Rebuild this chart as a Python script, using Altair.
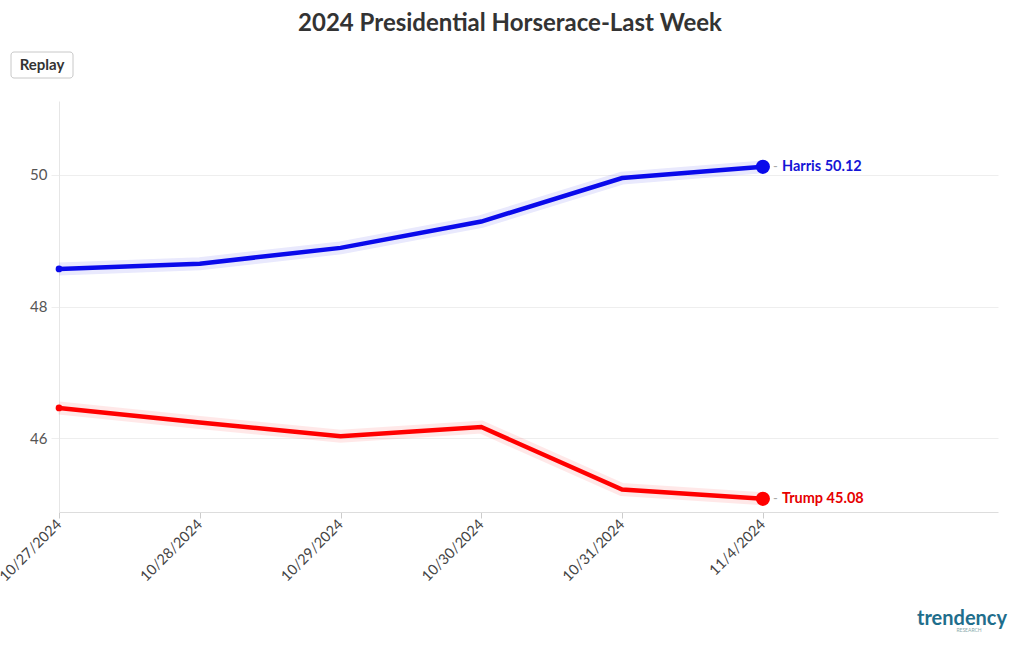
import altair as alt
import pandas as pd

dates = ["10/27/2024", "10/28/2024", "10/29/2024", "10/30/2024", "10/31/2024", "11/4/2024"]
harris = [48.57, 48.65, 48.89, 49.29, 49.95, 50.12]
trump = [46.46, 46.24, 46.03, 46.17, 45.22, 45.08]
series_names = ["Harris", "Trump"]
series_colors = ["#0a0aeb", "#ff0000"]
label_colors = ["#1515d6", "#e60000"]
y_ticks = [46, 48, 50]

rows = []
for i, (d, h, t) in enumerate(zip(dates, harris, trump)):
    rows.append({"idx": i, "date": d, "series": "Harris", "value": h})
    rows.append({"idx": i, "date": d, "series": "Trump", "value": t})
df = pd.DataFrame(rows)

W, H = 939, 411
FONT = "Lato"

date_arr = "[" + ",".join("'" + d + "'" for d in dates) + "]"
x = alt.X("idx:Q", title=None,
          scale=alt.Scale(domain=[0, 6.67], nice=False, zero=False),
          axis=alt.Axis(values=list(range(len(dates))), labelExpr=date_arr + "[datum.value]",
                        labelAngle=-45, labelFontSize=14.5, labelColor="#444", labelFont=FONT,
                        tickColor="#ccc", tickSize=6, domainColor="#ddd", grid=False,
                        labelPadding=4, labelAlign="right", labelBaseline="middle", labelOverlap=False))
y = alt.Y("value:Q", title=None,
          scale=alt.Scale(domain=[44.88, 51.12], nice=False, zero=False),
          axis=alt.Axis(values=y_ticks, labelFontSize=15, labelColor="#555", labelFont=FONT,
                        tickColor="#eee", tickSize=8, domainColor="#e6e6e6", gridColor="#eee",
                        labelPadding=4))
color = alt.Color("series:N", scale=alt.Scale(domain=series_names, range=series_colors), legend=None)

base = alt.Chart(df).encode(x=x, y=y, color=color)

band = base.mark_line(strokeWidth=13, opacity=0.09)
line = base.mark_line(strokeWidth=4.5)
last = alt.Chart(df).transform_filter(alt.datum.date == dates[-1])
end_pts = last.mark_circle(size=200, opacity=1).encode(x=x, y=y, color=color)
start_pts = alt.Chart(df).transform_filter(alt.datum.date == dates[0]).mark_circle(size=45, opacity=1).encode(x=x, y=y, color=color)
dash = last.mark_text(text="-", align="left", dx=10, fontSize=13, color="#aaa", font=FONT).encode(x=x, y=y)
labels = last.transform_calculate(
    lab="datum.series + ' ' + format(datum.value, '.2f')"
).mark_text(align="left", dx=19, fontSize=14.5, fontWeight="bold", font=FONT).encode(
    x=x, y=y, text="lab:N",
    color=alt.Color("series:N", scale=alt.Scale(domain=series_names, range=label_colors), legend=None))

one = pd.DataFrame({"k": [0]})
title = alt.Chart(one).mark_text(text="2024 Presidential Horserace-Last Week", fontSize=24, fontWeight="bold",
                                 color="#333", font=FONT).encode(x=alt.value(451), y=alt.value(-77))
btn = alt.Chart(one).mark_rect(fill="white", stroke="#c8c8c8", strokeWidth=1, cornerRadius=3).encode(
    x=alt.value(-48), x2=alt.value(14), y=alt.value(-49), y2=alt.value(-23))
btn_txt = alt.Chart(one).mark_text(text="Replay", fontSize=15, fontWeight="bold", color="#333", font=FONT).encode(
    x=alt.value(-17), y=alt.value(-36))
logo = alt.Chart(one).mark_text(text="trendency", fontSize=20, fontWeight="bold", color="#1f6e8c", font=FONT).encode(
    x=alt.value(903), y=alt.value(518))
logo2 = alt.Chart(one).mark_text(text="RESEARCH", fontSize=5, color="#8aa", font=FONT).encode(
    x=alt.value(910), y=alt.value(529))

chart = alt.layer(band, line, start_pts, end_pts, dash, labels, title, btn, btn_txt, logo, logo2).resolve_scale(
    color="independent"
).properties(
    width=W, height=H,
    autosize=alt.AutoSizeParams(type="none"),
    padding={"left": 59, "top": 101, "right": 22, "bottom": 138},
).configure_view(stroke=None)

chart.save("out.html", embed_options={"renderer": "svg", "actions": False})
